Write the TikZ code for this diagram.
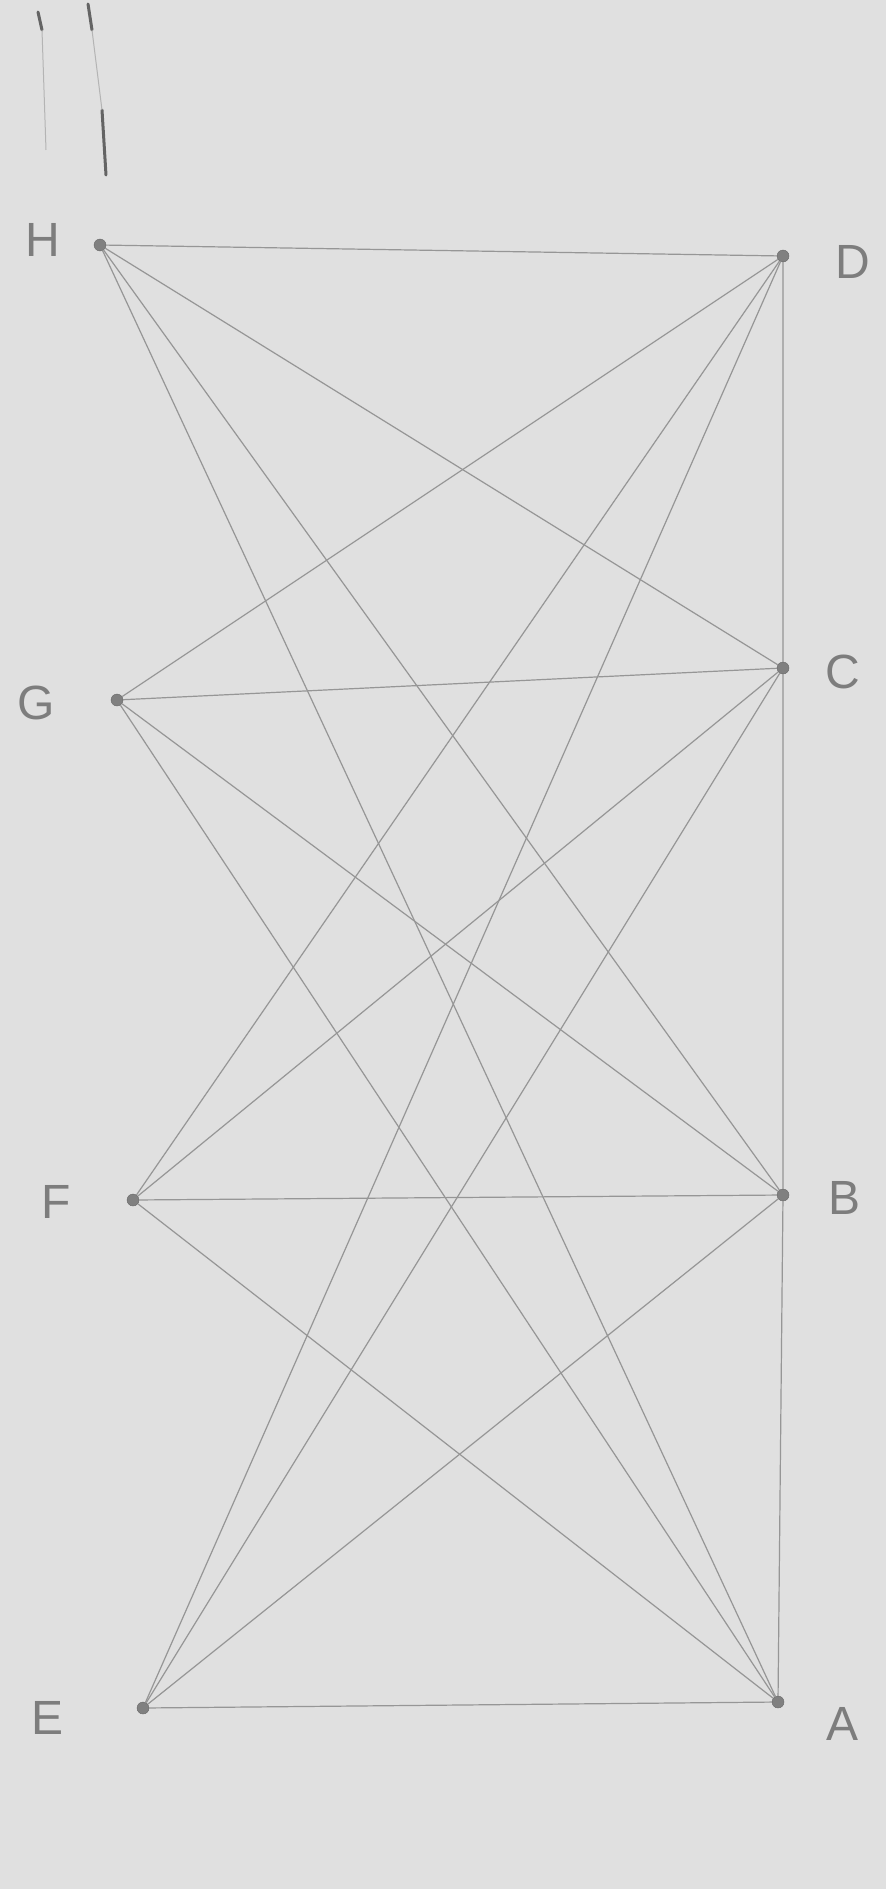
\documentclass[tikz,border=0pt]{standalone}
\usepackage{fontspec}
\setmainfont{Liberation Sans}
\definecolor{paper}{RGB}{224,224,224}
\definecolor{pencil}{RGB}{150,150,150}
\definecolor{lettr}{RGB}{125,125,125}
\begin{document}
\begin{tikzpicture}[x=1pt,y=-1pt,
  vert/.style={circle,fill=pencil!85!black,draw=pencil!70!black,inner sep=0pt,minimum size=12pt},
  lab/.style={text=lettr,font=\fontsize{48}{48}\selectfont,inner sep=0pt},
  edge/.style={draw=pencil,line width=1.2pt},
  stroke/.style={draw=lettr!80!black,line width=3pt,line cap=round}]
\fill[paper] (0,0) rectangle (886,1889);
\useasboundingbox (0,0) rectangle (886,1889);
% stray pencil marks at top
\coordinate (m1a) at (38,12); \coordinate (m1b) at (42,30);
\coordinate (m2a) at (88,4); \coordinate (m2b) at (92,30);
\coordinate (m3a) at (102,110); \coordinate (m3b) at (106,175);
\draw[stroke] (m1a) -- (m1b);
\draw[stroke] (m2a) -- (m2b);
\draw[stroke] (m3a) -- (m3b);
\draw[draw=pencil!60!paper,line width=1pt] (m1b) -- (46,150);
\draw[draw=pencil!60!paper,line width=1pt] (m2b) -- (m3a);
% vertices
\node[vert] (H) at (100,245) {};
\node[vert] (G) at (117,700) {};
\node[vert] (F) at (133,1200) {};
\node[vert] (E) at (143,1708) {};
\node[vert] (D) at (783,256) {};
\node[vert] (C) at (783,668) {};
\node[vert] (B) at (783,1195) {};
\node[vert] (A) at (778,1702) {};
% labels
\node[lab] (lH) at (43,240) {H};
\node[lab] (lG) at (36,703) {G};
\node[lab] (lF) at (56,1202) {F};
\node[lab] (lE) at (48,1718) {E};
\node[lab] (lD) at (853,262) {D};
\node[lab] (lC) at (843,672) {C};
\node[lab] (lB) at (844,1198) {B};
\node[lab] (lA) at (842,1724) {A};
% edges
\foreach \l in {H,G,F,E}{
  \foreach \r in {D,C,B,A}{
    \draw[edge] (\l) -- (\r);
  }
}
\draw[edge] (D) -- (C) -- (B) -- (A);
\end{tikzpicture}
\end{document}
